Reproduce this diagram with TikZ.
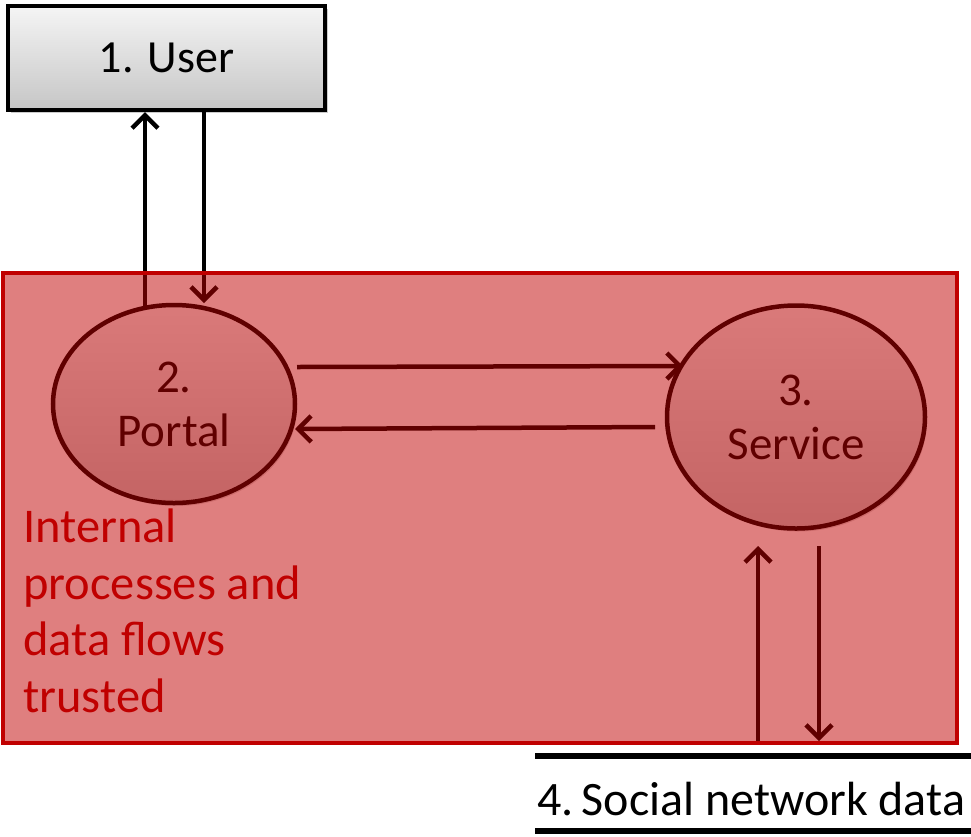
\documentclass[tikz,border=0pt]{standalone}
\usepackage{fontspec}
\setmainfont{Carlito}
\usetikzlibrary{shapes.geometric,arrows.meta,shadows}
\definecolor{trustred}{HTML}{C00000}
\begin{document}
\begin{tikzpicture}[x=1pt,y=-1pt,
  bigtext/.style={font=\fontsize{46}{56.5}\selectfont},
  midtext/.style={font=\fontsize{47}{54}\selectfont},
  largetext/.style={font=\fontsize{48.5}{56.5}\selectfont},
  storetext/.style={font=\fontsize{48}{56.5}\selectfont},
  arr/.style={line width=4.5pt,-{Straight Barb[length=13pt,width=26pt,line width=4.5pt]}},
  procnode/.style={ellipse,draw=black,line width=4.5pt,top color=gray!8,bottom color=gray!42,
    align=center,midtext,inner sep=0pt,
    drop shadow={shadow xshift=2pt,shadow yshift=-3pt,opacity=0.3}},
  entity/.style={rectangle,draw=black,line width=4.5pt,top color=gray!8,bottom color=gray!45,
    bigtext,inner sep=0pt,
    drop shadow={shadow xshift=3pt,shadow yshift=-3pt,opacity=0.4}},
  storeline/.style={line width=5.5pt,black}]
\useasboundingbox (0,0) rectangle (971,836);

% processes
\node[procnode,minimum width=242pt,minimum height=198pt] (portal) at (174,404) {2.\\Portal};
\node[procnode,minimum width=258pt,minimum height=223pt] (service) at (796,417) {3.\\Service};

% entity
\node[entity,minimum width=317pt,minimum height=104pt] (user) at (166.5,58) {1. User};

% coordinates for connector ends
\coordinate (u1) at (145,112);
\coordinate (p1) at (145,306);
\coordinate (u2) at (204,112);
\coordinate (p2) at (204,303);
\coordinate (ps) at (297,367);
\coordinate (sp) at (683,366);
\coordinate (sq) at (655,427);
\coordinate (pq) at (295,429);
\coordinate (s1) at (758,546);
\coordinate (d1) at (758,743);
\coordinate (s2) at (819,546);
\coordinate (d2) at (819,741);

\draw[arr] (p1) -- (u1);
\draw[arr] (u2) -- (p2);
\draw[arr] (ps) -- (sp);
\draw[arr] (sq) -- (pq);
\draw[arr] (d1) -- (s1);
\draw[arr] (s2) -- (d2);

% trust boundary overlay
\node[rectangle,fill=trustred,fill opacity=0.5,draw=trustred,draw opacity=1,line width=3.5pt,
  minimum width=954pt,minimum height=470pt,inner sep=0pt] (trust) at (480,508) {};

\node[largetext,text=trustred,align=left,anchor=north west,inner sep=0pt] (label) at (23,509)
  {Internal\\processes and\\data flows\\trusted};

% data store
\coordinate (st1) at (535,756);
\coordinate (st2) at (971,756);
\coordinate (sb1) at (535,831);
\coordinate (sb2) at (971,831);
\draw[storeline] (st1) -- (st2);
\draw[storeline] (sb1) -- (sb2);
\node[storetext,anchor=base west,inner sep=0pt] (store) at (537,815) {4.\hspace{0.17em}Social network data};
\end{tikzpicture}
\end{document}
